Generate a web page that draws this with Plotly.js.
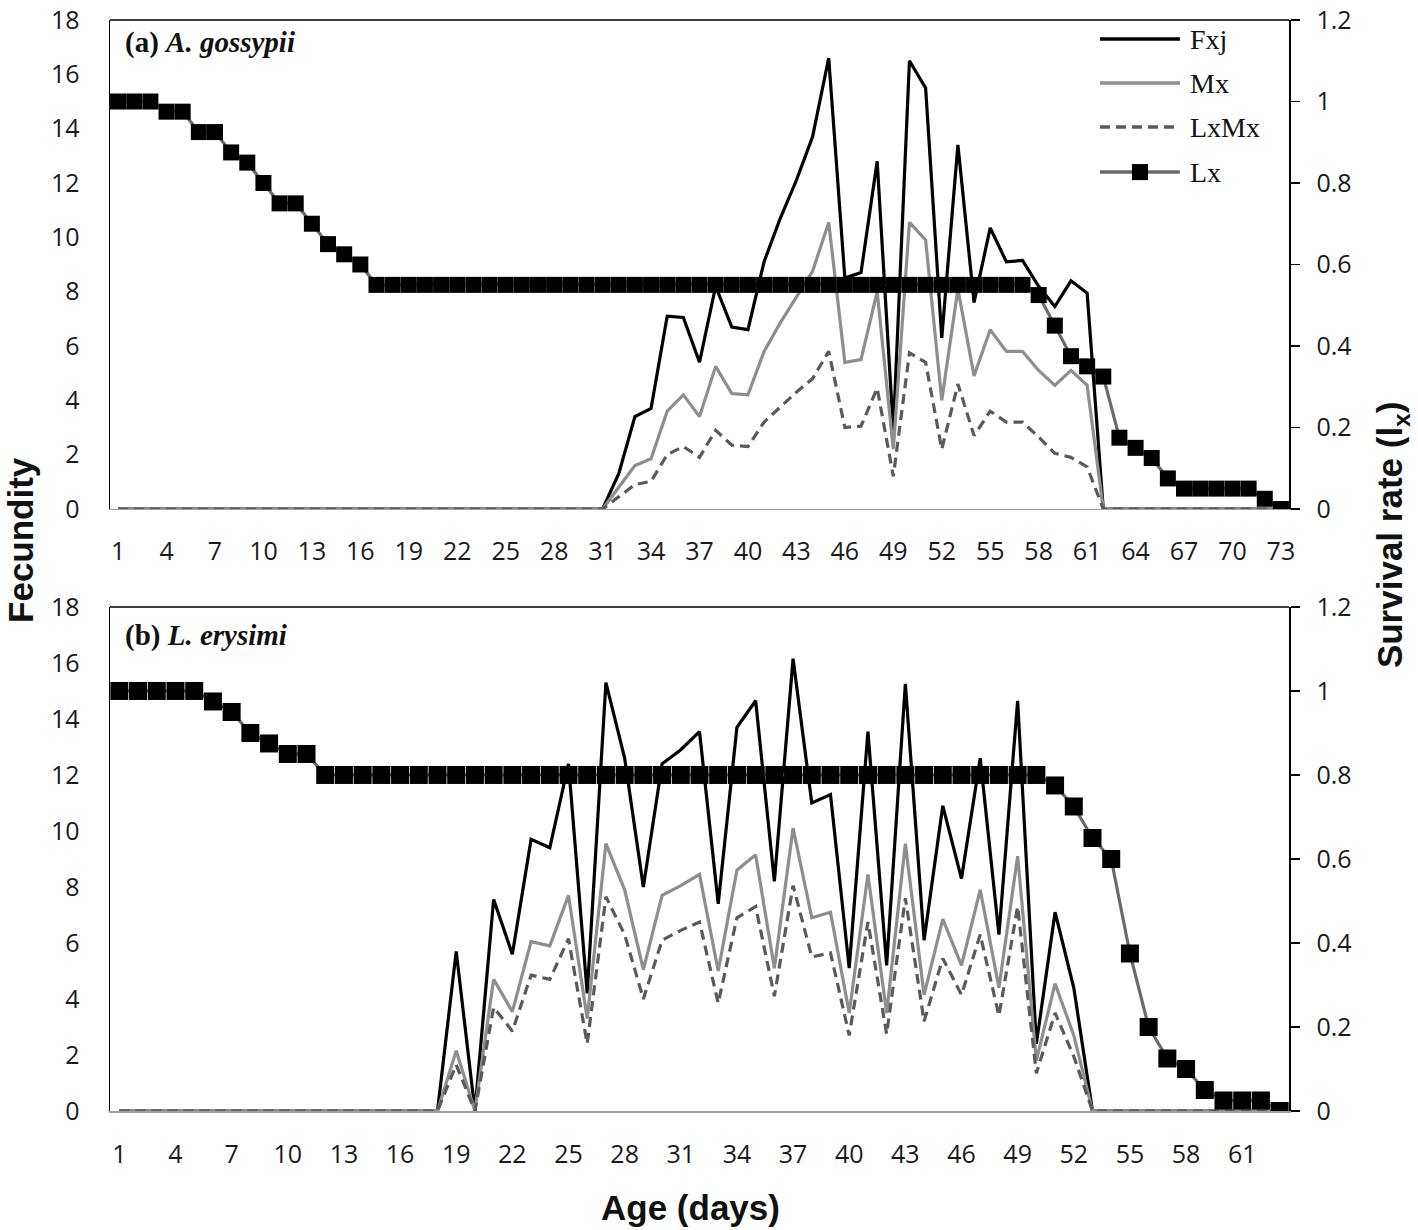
<!DOCTYPE html>
<html>
<head>
<meta charset="utf-8">
<script src="https://cdn.plot.ly/plotly-3.0.1.min.js"></script>
<style>html,body{margin:0;padding:0;background:#fff;}#chart{width:1418px;height:1230px;}</style>
</head>
<body>
<div id="chart"></div>
<script>
// ---------- Panel (a) A. gossypii : ages 1..73 ----------
const daysA = Array.from({length: 73}, (_, i) => i + 1);
const fxjA = [0,0,0,0,0,0,0,0,0,0, 0,0,0,0,0,0,0,0,0,0, 0,0,0,0,0,0,0,0,0,0, 0,
  1.3,3.4,3.7,7.1,7.05,5.4,8.2,6.7,6.6, 9.1,10.7,12.1,13.7,16.6,8.5,8.7,12.8,2.9,16.5,
  15.5,6.3,13.4,7.6,10.35,9.1,9.15,8.2,7.45,8.4, 7.95,0,
  0,0,0,0,0,0,0,0,0,0,0];
const mxA = [0,0,0,0,0,0,0,0,0,0, 0,0,0,0,0,0,0,0,0,0, 0,0,0,0,0,0,0,0,0,0, 0,
  0.8,1.6,1.85,3.6,4.2,3.4,5.25,4.25,4.2, 5.8,6.85,7.8,8.75,10.55,5.4,5.5,8.0,2.2,10.55,
  9.9,4.0,8.1,4.9,6.6,5.8,5.8,5.1,4.55,5.1, 4.55,0,
  0,0,0,0,0,0,0,0,0,0,0];
const lxmxA = [0,0,0,0,0,0,0,0,0,0, 0,0,0,0,0,0,0,0,0,0, 0,0,0,0,0,0,0,0,0,0, 0,
  0.45,0.9,1.02,2.0,2.3,1.9,2.9,2.35,2.3, 3.2,3.75,4.3,4.8,5.8,3.0,3.05,4.45,1.2,5.75,
  5.4,2.2,4.6,2.7,3.6,3.2,3.2,2.65,2.05,1.9, 1.55,0,
  0,0,0,0,0,0,0,0,0,0,0];
const lxA = [1,1,1,0.975,0.975,0.925,0.925,0.875,0.85,0.8, 0.75,0.75,0.7,0.65,0.625,0.6,
  0.55,0.55,0.55,0.55,0.55,0.55,0.55,0.55,0.55,0.55, 0.55,0.55,0.55,0.55,0.55,0.55,0.55,0.55,0.55,0.55,
  0.55,0.55,0.55,0.55,0.55,0.55,0.55,0.55,0.55,0.55, 0.55,0.55,0.55,0.55,0.55,0.55,0.55,0.55,0.55,0.55,
  0.55,
  0.525,0.45,0.375,0.35,0.325,0.175,0.15,0.125,0.075,0.05, 0.05,0.05,0.05,0.05,0.025,0];

// ---------- Panel (b) L. erysimi : ages 1..63 ----------
const daysB = Array.from({length: 63}, (_, i) => i + 1);
const fxjB = [0,0,0,0,0,0,0,0,0,0, 0,0,0,0,0,0,0,0,
  5.7,0,7.55,5.6,9.7,9.4,12.4,4.2,15.3,12.6, 8.0,12.4,12.9,13.55,7.4,13.7,14.65,8.2,16.15,11.0,
  11.3,5.1,13.55,5.2,15.25,6.1,10.9,8.3,12.6,6.3, 14.65,2.4,7.1,4.4,0,
  0,0,0,0,0,0,0,0,0,0];
const mxB = [0,0,0,0,0,0,0,0,0,0, 0,0,0,0,0,0,0,0,
  2.15,0,4.7,3.55,6.05,5.9,7.7,3.3,9.55,7.9, 5.05,7.7,8.05,8.45,5.0,8.6,9.15,5.1,10.1,6.9,
  7.1,3.5,8.45,3.5,9.55,4.15,6.85,5.2,7.9,4.4, 9.1,1.8,4.55,2.7,0,
  0,0,0,0,0,0,0,0,0,0];
const lxmxB = [0,0,0,0,0,0,0,0,0,0, 0,0,0,0,0,0,0,0,
  1.65,0,3.7,2.85,4.85,4.7,6.15,2.4,7.65,6.3, 4.0,6.1,6.45,6.75,3.85,6.9,7.3,4.1,8.05,5.5,
  5.65,2.7,6.75,2.75,7.6,3.2,5.45,4.15,6.3,3.4, 7.3,1.35,3.5,1.95,0,
  0,0,0,0,0,0,0,0,0,0];
const lxB = [1,1,1,1,1,0.975,0.95,0.9,0.875,0.85, 0.85,
  0.8,0.8,0.8,0.8,0.8,0.8,0.8,0.8,0.8,0.8, 0.8,0.8,0.8,0.8,0.8,0.8,0.8,0.8,0.8,0.8,
  0.8,0.8,0.8,0.8,0.8,0.8,0.8,0.8,0.8,0.8, 0.8,0.8,0.8,0.8,0.8,0.8,0.8,0.8,0.8,
  0.775,0.725,0.65,0.6,0.375,0.2,0.125,0.1,0.05,0.025, 0.025,0.025,0];

const seriesNames = ['Fxj', 'Mx', 'LxMx', 'Lx'];
const panelLabels = ['(a) <i>A. gossypii</i>', '(b) <i>L. erysimi</i>'];
const tickA = daysA.filter(d => (d - 1) % 3 === 0);
const tickB = daysB.filter(d => (d - 1) % 3 === 0);

// ---------- styles ----------
const cFxj = '#000000', cMx = '#8e8e8e', cLxMx = '#5a5a5a', cLx = '#6a6a6a';
const tickFont = {family: 'Open Sans, sans-serif', size: 25, color: '#1a1a1a'};

function panelTraces(days, fxj, mx, lxmx, lx, xa, ya, ya2, msize) {
  return [
    {x: days, y: fxj, xaxis: xa, yaxis: ya, type: 'scatter', mode: 'lines', name: seriesNames[0],
     line: {color: cFxj, width: 3.2}, showlegend: false},
    {x: days, y: mx, xaxis: xa, yaxis: ya, type: 'scatter', mode: 'lines', name: seriesNames[1],
     line: {color: cMx, width: 3.2}, showlegend: false},
    {x: days, y: lxmx, xaxis: xa, yaxis: ya, type: 'scatter', mode: 'lines', name: seriesNames[2],
     line: {color: cLxMx, width: 3.2, dash: '10px,6px'}, showlegend: false},
    {x: days, y: lx, xaxis: xa, yaxis: ya2, type: 'scatter', mode: 'lines+markers', name: seriesNames[3],
     line: {color: cLx, width: 3.2}, marker: {symbol: 'square', size: msize, color: '#000'}, showlegend: false}
  ];
}

const data = [].concat(
  panelTraces(daysA, fxjA, mxA, lxmxA, lxA, 'x', 'y', 'y2', 16),
  panelTraces(daysB, fxjB, mxB, lxmxB, lxB, 'x2', 'y3', 'y4', 18)
);

const domA = [0.5518, 1.0], domB = [0.0, 0.462];

function xAxis(range, ticks, anchor) {
  return {range: range, domain: [0, 1], anchor: anchor, tickmode: 'array', tickvals: ticks,
    showgrid: false, zeroline: false, showline: true, linecolor: '#a0a0a0', linewidth: 1.5,
    ticks: '', tickfont: tickFont, ticklabelstandoff: 20, ticklabeloverflow: 'allow'};
}
function yLeft(dom, anchor) {
  return {range: [0, 18], dtick: 2, domain: dom, anchor: anchor, showgrid: false, zeroline: false,
    showline: true, linecolor: '#000', linewidth: 1.5, ticks: '', tickfont: tickFont,
    ticklabelstandoff: 24, ticklabeloverflow: 'allow'};
}
function yRight(overlay, anchor, dom) {
  return {range: [0, 1.2], dtick: 0.2, overlaying: overlay, side: 'right', anchor: anchor, domain: dom,
    showgrid: false, zeroline: false, showline: true, linecolor: '#000', linewidth: 1.5,
    ticks: 'outside', ticklen: 9, tickwidth: 1.5, tickcolor: '#000', tickfont: tickFont,
    ticklabelstandoff: 12, ticklabeloverflow: 'allow'};
}

const shapes = [];
const annotations = [];
// top border of both plot areas
[['x', 'y'], ['x2', 'y3']].forEach(([xa, ya]) => {
  shapes.push({type: 'line', xref: xa + ' domain', yref: ya + ' domain', x0: 0, x1: 1, y0: 1, y1: 1,
    line: {color: '#000', width: 1.5}});
});
// panel labels
const labelFont = {family: 'Liberation Serif, Times New Roman, serif', size: 29, color: '#111'};
annotations.push({xref: 'x domain', yref: 'y domain', x: 0.011, y: 0.955, xanchor: 'left', yanchor: 'middle',
  showarrow: false, text: '<b>' + panelLabels[0] + '</b>', font: labelFont});
annotations.push({xref: 'x2 domain', yref: 'y3 domain', x: 0.011, y: 0.944, xanchor: 'left', yanchor: 'middle',
  showarrow: false, text: '<b>' + panelLabels[1] + '</b>', font: labelFont});

// custom legend in panel (a)
const legX0 = 0.8397, legX1 = 0.9075, legTx = 0.9143;
const legY = [0.961, 0.871, 0.781, 0.689];
const legLines = [
  {color: cFxj, width: 3.5, dash: 'solid'},
  {color: cMx, width: 3.5, dash: 'solid'},
  {color: cLxMx, width: 3.5, dash: '10px,6px'},
  {color: cLx, width: 3.5, dash: 'solid'}
];
seriesNames.forEach((nm, i) => {
  shapes.push({type: 'line', xref: 'x domain', yref: 'y domain', x0: legX0, x1: legX1, y0: legY[i], y1: legY[i],
    line: legLines[i]});
  annotations.push({xref: 'x domain', yref: 'y domain', x: legTx, y: legY[i], xanchor: 'left', yanchor: 'middle',
    showarrow: false, text: nm, font: {family: 'Liberation Serif, Times New Roman, serif', size: 28, color: '#111'}});
});
shapes.push({type: 'rect', xref: 'x domain', yref: 'y domain', x0: 0.8668, x1: 0.8804,
  y0: legY[3] - 0.0164, y1: legY[3] + 0.0164, fillcolor: '#000', line: {color: '#000', width: 0}});

// shared axis titles
const titleFont = {family: 'Liberation Sans, Arial, sans-serif', size: 35, color: '#111'};
annotations.push({xref: 'paper', yref: 'paper', x: -0.0755, y: 0.5234, xanchor: 'center', yanchor: 'middle',
  textangle: -90, showarrow: false, text: '<b>Fecundity</b>', font: titleFont});
annotations.push({xref: 'paper', yref: 'paper', x: 1.0875, y: 0.528, xanchor: 'center', yanchor: 'middle',
  textangle: -90, showarrow: false, text: '<b>Survival rate (l<sub>x</sub>)</b>', font: titleFont});
annotations.push({xref: 'paper', yref: 'paper', x: 0.492, y: -0.0889, xanchor: 'center', yanchor: 'middle',
  showarrow: false, text: '<b>Age (days)</b>', font: titleFont});

const layout = {
  width: 1418, height: 1230,
  margin: {l: 110, r: 129, t: 20, b: 119},
  paper_bgcolor: '#fff', plot_bgcolor: '#fff',
  showlegend: false,
  xaxis: xAxis([0.5, 73.5], tickA, 'y'),
  yaxis: yLeft(domA, 'x'),
  yaxis2: yRight('y', 'x', domA),
  xaxis2: xAxis([0.5, 63.5], tickB, 'y3'),
  yaxis3: yLeft(domB, 'x2'),
  yaxis4: yRight('y3', 'x2', domB),
  shapes: shapes,
  annotations: annotations
};

Plotly.newPlot('chart', data, layout, {staticPlot: true, displayModeBar: false});
</script>
</body>
</html>
